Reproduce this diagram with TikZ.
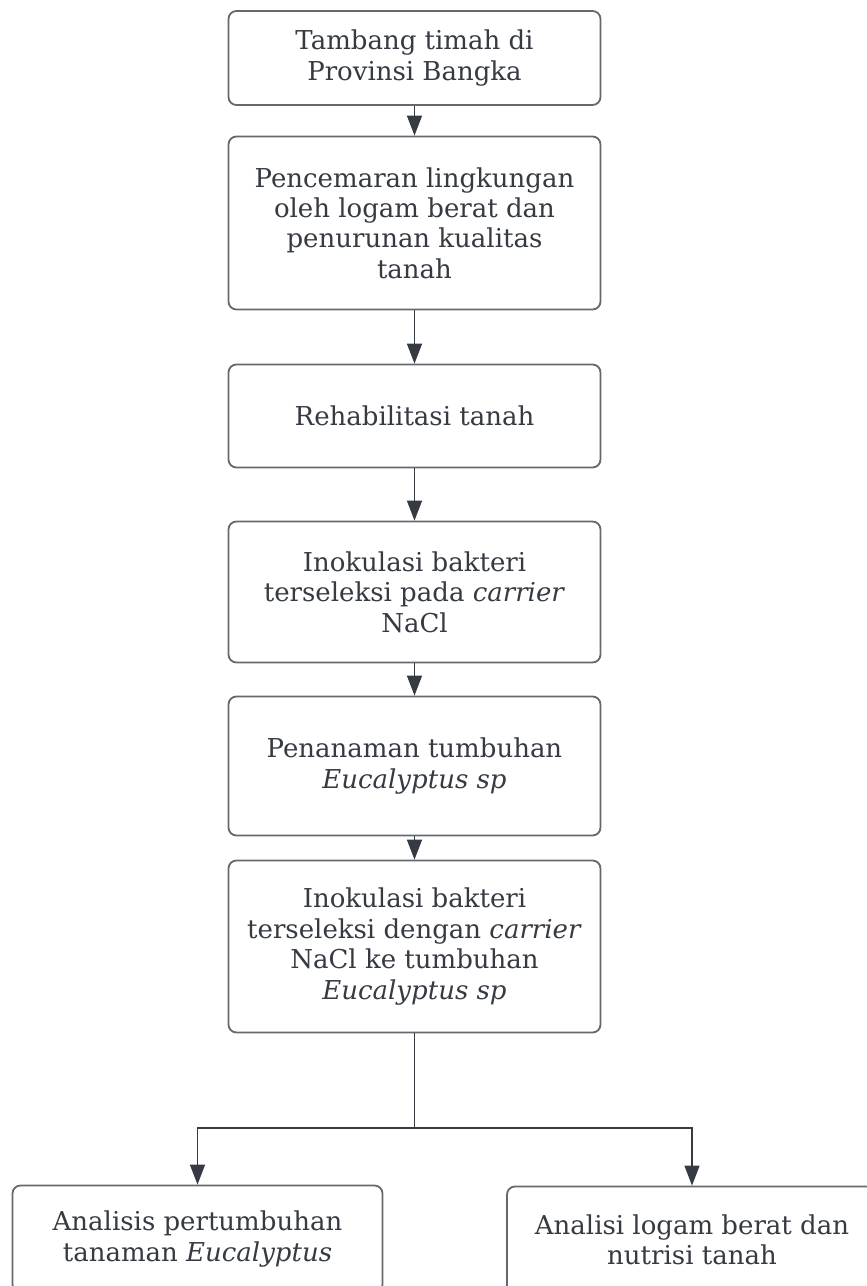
\documentclass[tikz,border=0pt]{standalone}
\usepackage{fontspec}
\setmainfont{DejaVu Serif}
\usetikzlibrary{arrows.meta}
\definecolor{inkgray}{HTML}{363B43}
\definecolor{edgegray}{HTML}{65686E}
\tikzset{
  stepbox/.style={draw=edgegray, line width=0.9pt, rounded corners=4pt, fill=white,
    text=inkgray, align=center, inner sep=0pt, minimum width=186pt,
    font=\fontsize{13}{15.2}\selectfont},
  flow/.style={draw=inkgray, line width=0.75pt, -{Triangle[length=10pt,width=7.5pt]}},
}
\begin{document}
\begin{tikzpicture}[x=0.5pt, y=-0.5pt]
\useasboundingbox (0,0) rectangle (867,1286); % page frame
\node[stepbox, minimum height=47pt] (tambang) at (414.5,58) {Tambang timah di\\Provinsi Bangka}; % box 1
\node[stepbox, minimum height=86.5pt] (cemar) at (414.5,223) {Pencemaran lingkungan\\oleh logam berat dan\\penurunan kualitas\\tanah}; % box 2
\node[stepbox, minimum height=51.5pt] (rehab) at (414.5,416) {Rehabilitasi tanah}; % box 3
\node[stepbox, minimum height=70.5pt] (inok) at (414.5,592) {Inokulasi bakteri\\terseleksi pada \textit{carrier}\\NaCl}; % box 4
\node[stepbox, minimum height=69.5pt] (tanam) at (414.5,766) {Penanaman tumbuhan\\\textit{Eucalyptus sp}}; % box 5
\node[stepbox, minimum height=86pt] (inoktanam) at (414.5,946.5) {Inokulasi bakteri\\terseleksi dengan \textit{carrier}\\NaCl ke tumbuhan\\\textit{Eucalyptus sp}}; % box 6
\node[stepbox, minimum width=185pt, minimum height=53.5pt] (tumbuh) at (197.5,1239) {Analisis pertumbuhan\\tanaman \textit{Eucalyptus}}; % left result
\node[stepbox, minimum width=185pt, minimum height=53.5pt] (logam) at (692,1240) {Analisi logam berat dan\\nutrisi tanah}; % right result
\coordinate (cabang) at (414.5,1128); % split point
\draw[flow] (tambang) -- (cemar);
\draw[flow] (cemar) -- (rehab);
\draw[flow] (rehab) -- (inok);
\draw[flow] (inok) -- (tanam);
\draw[flow] (tanam) -- (inoktanam);
\draw[draw=inkgray, line width=0.75pt] (inoktanam) -- (cabang); % trunk
\draw[flow] (cabang) -| (tumbuh);
\draw[flow] (cabang) -| (logam);
\end{tikzpicture}
\end{document}
